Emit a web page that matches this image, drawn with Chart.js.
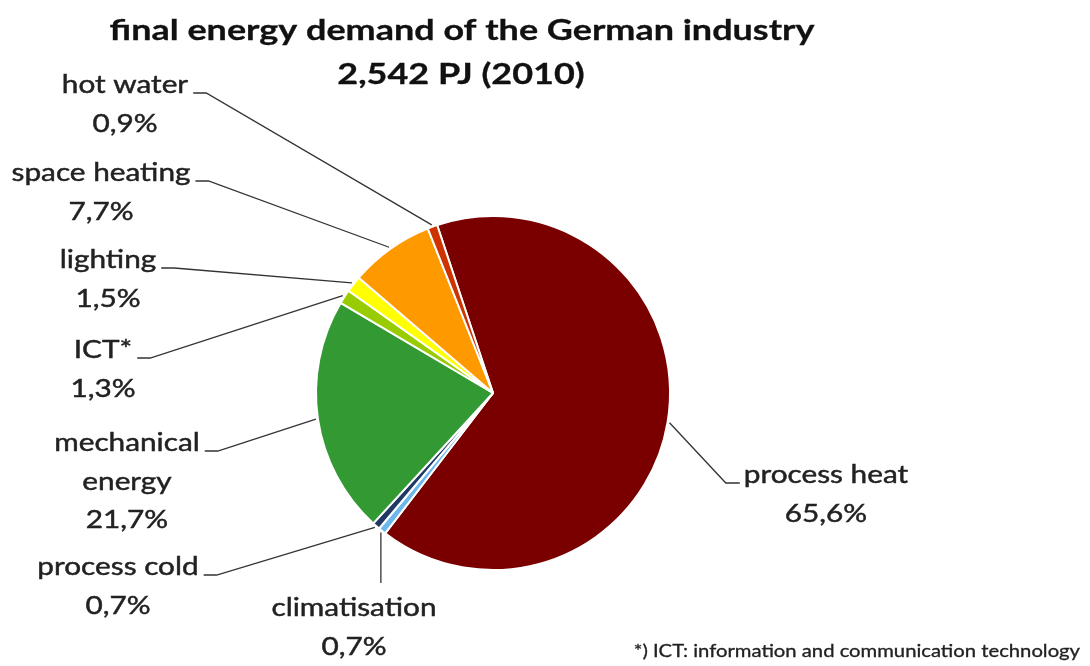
<!DOCTYPE html>
<html>
<head>
<meta charset="utf-8">
<script src="https://cdn.jsdelivr.net/npm/chart.js@4/dist/chart.umd.min.js"></script>
<style>
  html, body { margin: 0; padding: 0; background: #ffffff; }
  #wrap { width: 1090px; height: 666px; position: relative; }
</style>
</head>
<body>
<div id="wrap"><canvas id="chart" width="1090" height="666"></canvas></div>
<script>
// Final energy demand of the German industry, 2010 (share in %)
const categories = ['process heat', 'climatisation', 'process cold', 'mechanical energy', 'ICT*', 'lighting', 'space heating', 'hot water'];
const labelLines = [['process heat'], ['climatisation'], ['process cold'], ['mechanical', 'energy'], ['ICT*'], ['lighting'], ['space heating'], ['hot water']];
const shares = [65.6, 0.7, 0.7, 21.7, 1.3, 1.5, 7.7, 0.9];
const sliceColors = ['#7a0000', '#6cb8ee', '#1f3864', '#339933', '#99cc00', '#ffff00', '#ff9900', '#cc3300'];
const titleLines = ['final energy demand of the German industry', '2,542 PJ (2010)'];
const footnote = '*) ICT: information and communication technology';

// label placement: block centre x, first-line middle y, side of the pie
const labelPlacement = [
  { cx: 826, y: 475, side: 'right' },
  { cx: 354, y: 608, side: 'below' },
  { cx: 118, y: 567, side: 'left' },
  { cx: 127, y: 443, side: 'left' },
  { cx: 103, y: 350, side: 'left' },
  { cx: 108, y: 260, side: 'left' },
  { cx: 101, y: 173, side: 'left' },
  { cx: 125, y: 85,  side: 'left' }
];

const FONT = 'Lato, "Open Sans", sans-serif';
const TEXT_COLOR = '#222222';
const LINE_H = 38.5;
const STRETCH = 1.19;       // wide set of the label lettering
const TITLE_STRETCH = 1.24;

const fmt = v => v.toFixed(1).replace('.', ',') + '%';

// draws text widened horizontally around its anchor; returns drawn width
function wideText(ctx, text, x, y, align, sx, weight) {
  const w = ctx.measureText(text).width * sx;
  ctx.save();
  ctx.translate(x, y);
  ctx.scale(sx, 1);
  ctx.textAlign = align;
  ctx.fillText(text, 0, 0);
  if (weight) {
    ctx.lineWidth = weight;
    ctx.strokeStyle = ctx.fillStyle;
    ctx.strokeText(text, 0, 0);
  }
  ctx.restore();
  return w;
}

const labelPlugin = {
  id: 'pieLabels',
  afterDraw(chart) {
    const ctx = chart.ctx;
    const arcs = chart.getDatasetMeta(0).data;
    ctx.save();
    ctx.textBaseline = 'middle';

    // title
    ctx.fillStyle = '#111111';
    ctx.font = 'bold 29px ' + FONT;
    wideText(ctx, titleLines[0], 462, 31, 'center', TITLE_STRETCH, 0.3);
    wideText(ctx, titleLines[1], 461, 75, 'center', TITLE_STRETCH, 0.3);

    // category labels with leader lines
    ctx.font = '25px ' + FONT;
    arcs.forEach((arc, i) => {
      const p = labelPlacement[i];
      const lines = labelLines[i].concat([fmt(shares[i])]);
      ctx.fillStyle = TEXT_COLOR;
      let w0 = 0;
      lines.forEach((t, k) => {
        const w = wideText(ctx, t, p.cx, p.y + k * LINE_H, 'center', STRETCH, 0.45);
        if (k === 0) w0 = w;
      });

      const mid = (arc.startAngle + arc.endAngle) / 2;
      const r = arc.outerRadius + 2;
      const ax = arc.x + Math.cos(mid) * r;
      const ay = arc.y + Math.sin(mid) * r;

      ctx.strokeStyle = '#333333';
      ctx.lineWidth = 1.3;
      ctx.beginPath();
      if (p.side === 'left') {
        const sx = p.cx + w0 / 2 + 5, sy = p.y + 8;
        ctx.moveTo(sx, sy);
        ctx.lineTo(sx + 13, sy);
        ctx.lineTo(ax, ay);
      } else if (p.side === 'right') {
        const sx = p.cx - w0 / 2 - 4, sy = p.y + 8;
        ctx.moveTo(sx, sy);
        ctx.lineTo(sx - 14, sy);
        ctx.lineTo(ax, ay);
      } else {
        ctx.moveTo(ax, ay);
        ctx.lineTo(ax, p.y - 25);
      }
      ctx.stroke();
    });

    // footnote
    ctx.fillStyle = '#222222';
    ctx.font = '17px ' + FONT;
    wideText(ctx, footnote, 1080, 652, 'right', STRETCH, 0.3);
    ctx.restore();
  }
};

new Chart(document.getElementById('chart'), {
  type: 'pie',
  data: {
    labels: categories,
    datasets: [{
      data: shares,
      backgroundColor: sliceColors,
      borderColor: '#ffffff',
      borderWidth: 2
    }]
  },
  options: {
    responsive: false,
    animation: false,
    rotation: -18.4,
    radius: 177,
    layout: { padding: { left: 0, right: 104, top: 120, bottom: 0 } },
    plugins: {
      legend: { display: false },
      title: { display: false },
      tooltip: { enabled: false }
    }
  },
  plugins: [labelPlugin]
});
</script>
</body>
</html>
